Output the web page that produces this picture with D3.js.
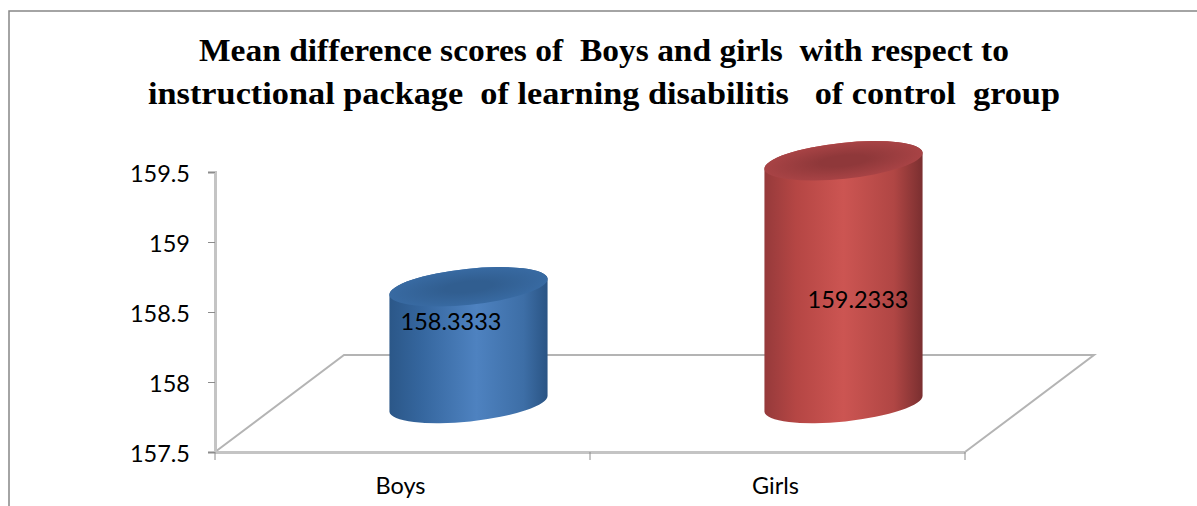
<!DOCTYPE html>
<html>
<head>
<meta charset="utf-8">
<script src="https://cdn.jsdelivr.net/npm/d3@7"></script>
<style>
    html, body { margin: 0; padding: 0; background: #fff; overflow: hidden; }
    .title { font-family: "Liberation Serif", serif; font-weight: bold; font-size: 32px; fill: #000; text-anchor: middle; white-space: pre; }
    .axis text, .value-label { font-family: Lato, sans-serif; font-size: 23.5px; fill: #000; }
    .axis path.domain, .axis line { fill: none; }
</style>
</head>
<body>
<div id="chart"></div>
<script>
const categories = ["Boys", "Girls"]
const values = [158.3333, 159.2333]
const valueLabels = ["158.3333", "159.2333"]
const yTicks = [157.5, 158, 158.5, 159, 159.5]
const titleLines = [
    "Mean difference scores of  Boys and girls  with respect to",
    "instructional package  of learning disabilitis   of control  group"
]

const totalWidth = 1197
const totalHeight = 506
const plot = { left: 215, right: 965, top: 172, bottom: 452 }
const depth = { x: 129, y: 97 }
const barRadius = 79.5
const barMinor = 18
const barTilt = -6
const titleWidths = [810, 912]

const svg = d3.select("#chart")
    .append("svg")
    .attr("width", totalWidth)
    .attr("height", totalHeight)

const defs = svg.append("defs")

const addBodyGradient = (id, stops) => {
    const grad = defs.append("linearGradient").attr("id", id)
        .attr("x1", "0%").attr("x2", "100%").attr("y1", "0%").attr("y2", "0%")
    stops.forEach((s) => grad.append("stop").attr("offset", s[0]).attr("stop-color", s[1]))
}
const addTopGradient = (id, inner, outer) => {
    const grad = defs.append("radialGradient").attr("id", id)
    grad.append("stop").attr("offset", "30%").attr("stop-color", inner)
    grad.append("stop").attr("offset", "100%").attr("stop-color", outer)
}
addBodyGradient("body-0", [["0%", "#2b5788"], ["20%", "#35669e"], ["55%", "#4e82c0"], ["85%", "#3d6ea6"], ["100%", "#2a5484"]])
addBodyGradient("body-1", [["0%", "#963a3b"], ["20%", "#b54644"], ["50%", "#cc5552"], ["82%", "#b04644"], ["100%", "#7a2f30"]])
addTopGradient("top-0", "#315e90", "#386aa2")
addTopGradient("top-1", "#8f383a", "#a84345")

// outer chart frame, only left and top edges are in the picture
svg.append("path")
    .attr("d", `M9,${totalHeight}V11H${totalWidth}`)
    .attr("fill", "none")
    .attr("stroke", "#868686")
    .attr("stroke-width", 1.5)

svg.selectAll(".title")
    .data(titleLines)
    .enter()
    .append("text")
    .attr("class", "title")
    .attr("x", 604)
    .attr("y", (d, i) => 61 + i * 43)
    .attr("textLength", (d, i) => titleWidths[i])
    .attr("lengthAdjust", "spacingAndGlyphs")
    .text((d) => d)

const x = d3.scaleBand().domain(categories).range([plot.left, plot.right])
const y = d3.scaleLinear().domain([157.5, 159.5]).range([plot.bottom, plot.top])

// floor of the 3d plot
const floorBack = plot.bottom - depth.y
svg.append("path")
    .attr("d", `M${plot.left},${plot.bottom}L${plot.left + depth.x},${floorBack}L${plot.right + depth.x},${floorBack}L${plot.right},${plot.bottom}`)
    .attr("fill", "none")
    .attr("stroke", "#b4b4b4")
    .attr("stroke-width", 2)

const yAxis = svg.append("g")
    .attr("class", "axis")
    .attr("transform", `translate(${plot.left}, 0)`)
    .call(d3.axisLeft(y).tickValues(yTicks).tickFormat((d) => String(d)).tickSize(7).tickPadding(18))
yAxis.select(".domain").attr("stroke", "#c4c4c4").attr("stroke-width", 3)
yAxis.selectAll("line").attr("stroke", "#8c8c8c").attr("stroke-width", 1)
yAxis.selectAll(".tick text").attr("y", 1.5)

const xAxis = svg.append("g")
    .attr("class", "axis")
    .attr("transform", `translate(0, ${plot.bottom})`)
    .call(d3.axisBottom(x).tickSize(0).tickPadding(25))
xAxis.select(".domain").attr("stroke", "#c4c4c4").attr("stroke-width", 3)
xAxis.selectAll(".tick text").attr("dx", -2)

// category ticks sit on the band edges
const edges = [plot.left, ...categories.map((c) => x(c) + x.bandwidth())]
xAxis.selectAll(".edge")
    .data(edges)
    .enter()
    .append("line")
    .attr("class", "edge")
    .attr("x1", (d) => d)
    .attr("x2", (d) => d)
    .attr("y1", 0)
    .attr("y2", 8)
    .attr("stroke", "#8c8c8c")

// cylinders stand in the middle of the floor depth
const rad = barTilt * Math.PI / 180
const tipX = barRadius * Math.cos(rad)
const tipY = barRadius * Math.sin(rad)
const arc = (x1, y1, sweep) => `A${barRadius},${barMinor} ${barTilt} 0 ${sweep} ${x1},${y1}`

const bars = svg.selectAll(".bar")
    .data(values)
    .enter()
    .append("g")
    .attr("class", "bar")
    .attr("transform", (d, i) => `translate(${x(categories[i]) + x.bandwidth() / 2 + depth.x / 2 + 1.5}, ${-depth.y / 2})`)

bars.append("path")
    .attr("d", (d) => {
        const top = y(d)
        const base = y(157.5)
        return `M${-tipX},${top - tipY}` + arc(tipX, top + tipY, 1) +
            `L${tipX},${base + tipY}` + arc(-tipX, base - tipY, 1) + "Z"
    })
    .attr("fill", (d, i) => `url(#body-${i})`)

bars.append("ellipse")
    .attr("rx", barRadius)
    .attr("ry", barMinor)
    .attr("transform", (d) => `translate(0, ${y(d)}) rotate(${barTilt})`)
    .attr("fill", (d, i) => `url(#top-${i})`)

const labelDx = [-17.5, 14.5]
const labelDy = [43, 147]
bars.append("text")
    .attr("class", "value-label")
    .attr("text-anchor", "middle")
    .attr("x", (d, i) => labelDx[i])
    .attr("y", (d, i) => y(d) + labelDy[i])
    .text((d, i) => valueLabels[i])
</script>
</body>
</html>
